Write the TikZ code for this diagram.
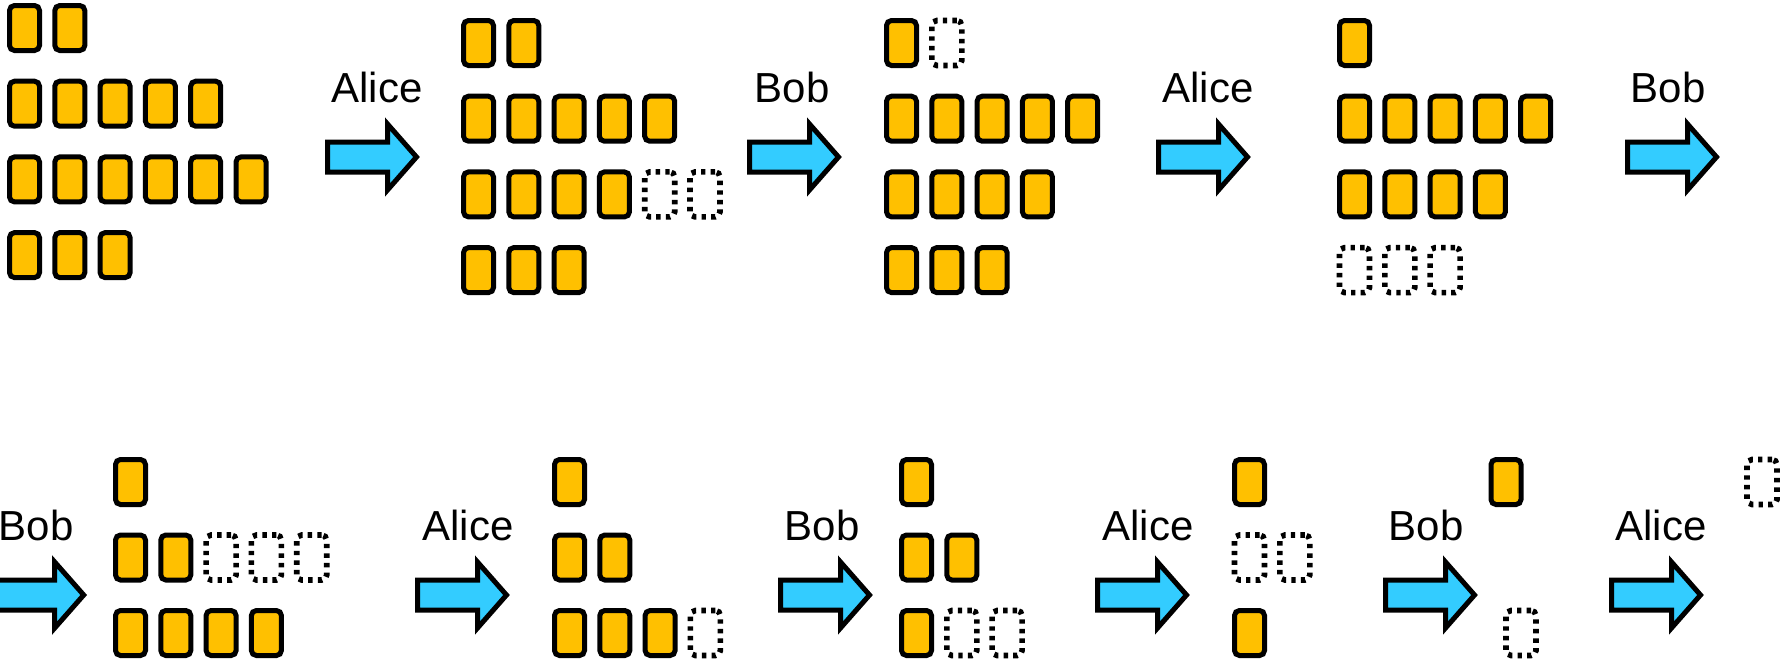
\documentclass[tikz,border=0pt]{standalone}
\usepackage{fontspec}
\setmainfont{Liberation Sans}
\definecolor{tilefill}{HTML}{FFC000}
\definecolor{arrowfill}{HTML}{33CCFF}
\tikzset{
  tile/.style={rectangle, draw=black, fill=tilefill, line width=2.5pt, rounded corners=2.5pt,
    minimum width=15pt, minimum height=22.5pt, inner sep=0pt, outer sep=0pt},
  gone/.style={rectangle, draw=black, line width=2.8pt, dash pattern=on 2.2pt off 2.6pt, rounded corners=2.5pt,
    minimum width=15pt, minimum height=22.5pt, inner sep=0pt, outer sep=0pt},
  bigarrow/.style={draw=black, fill=arrowfill, line width=2.5pt, line join=miter},
  lbl/.style={font=\fontsize{21pt}{24pt}\selectfont, anchor=base, inner sep=0pt},
  barrow/.pic={\path[bigarrow] (0,-15) -- (60,-15) -- (60,-33) -- (89,0) -- (60,33) -- (60,15) -- (0,15) -- cycle;}
}
\newcommand\tilerow[6]{\foreach \i in {#4,...,#5}{\node[#6] (#1-\i) at ({#2+45.3*\i},#3) {};}}
\begin{document}
\begin{tikzpicture}[x=0.5pt,y=-0.5pt]
\useasboundingbox (0,0) rectangle (1786,665);
% ---------- top row ----------
% state A
\tilerow{A0}{24.5}{28}{0}{1}{tile}
\tilerow{A1}{24.5}{103.7}{0}{4}{tile}
\tilerow{A2}{24.5}{179.4}{0}{5}{tile}
\tilerow{A3}{24.5}{255.1}{0}{2}{tile}
% arrow 1
\pic (ar1) at (327.5,157) {barrow};
\node[lbl] (l1) at (377,102) {Alice};
% state B
\tilerow{B0}{478.5}{43}{0}{1}{tile}
\tilerow{B1}{478.5}{118.7}{0}{4}{tile}
\tilerow{B2}{478.5}{194.4}{0}{3}{tile}
\tilerow{B2g}{478.5}{194.4}{4}{5}{gone}
\tilerow{B3}{478.5}{270.1}{0}{2}{tile}
% arrow 2
\pic (ar2) at (749.5,157) {barrow};
\node[lbl] (l2) at (792,102) {Bob};
% state C
\tilerow{C0}{901.5}{43}{0}{0}{tile}
\tilerow{C0g}{901.5}{43}{1}{1}{gone}
\tilerow{C1}{901.5}{118.7}{0}{4}{tile}
\tilerow{C2}{901.5}{194.4}{0}{3}{tile}
\tilerow{C3}{901.5}{270.1}{0}{2}{tile}
% arrow 3
\pic (ar3) at (1158.5,157) {barrow};
\node[lbl] (l3) at (1208,102) {Alice};
% state D
\tilerow{D0}{1354.5}{43}{0}{0}{tile}
\tilerow{D1}{1354.5}{118.7}{0}{4}{tile}
\tilerow{D2}{1354.5}{194.4}{0}{3}{tile}
\tilerow{D3g}{1354.5}{270.1}{0}{2}{gone}
% arrow 4
\pic (ar4) at (1627.5,157) {barrow};
\node[lbl] (l4) at (1668,102) {Bob};
% ---------- bottom row ----------
% arrow 5
\pic (ar5) at (-5.3,595) {barrow};
\node[lbl] (l5) at (36,540) {Bob};
% state E
\tilerow{E0}{130.5}{482}{0}{0}{tile}
\tilerow{E1}{130.5}{557.5}{0}{1}{tile}
\tilerow{E1g}{130.5}{557.5}{2}{4}{gone}
\tilerow{E2}{130.5}{633}{0}{3}{tile}
% arrow 6
\pic (ar6) at (417.5,595) {barrow};
\node[lbl] (l6) at (468,540) {Alice};
% state F
\tilerow{F0}{569.5}{482}{0}{0}{tile}
\tilerow{F1}{569.5}{557.5}{0}{1}{tile}
\tilerow{F2}{569.5}{633}{0}{2}{tile}
\tilerow{F2g}{569.5}{633}{3}{3}{gone}
% arrow 7
\pic (ar7) at (780.5,595) {barrow};
\node[lbl] (l7) at (822,540) {Bob};
% state G
\tilerow{G0}{916.5}{482}{0}{0}{tile}
\tilerow{G1}{916.5}{557.5}{0}{1}{tile}
\tilerow{G2}{916.5}{633}{0}{0}{tile}
\tilerow{G2g}{916.5}{633}{1}{2}{gone}
% arrow 8
\pic (ar8) at (1097.5,595) {barrow};
\node[lbl] (l8) at (1148,540) {Alice};
% state H
\tilerow{H0}{1249.5}{482}{0}{0}{tile}
\tilerow{H1g}{1249.5}{557.5}{0}{1}{gone}
\tilerow{H2}{1249.5}{633}{0}{0}{tile}
% arrow 9
\pic (ar9) at (1385.5,595) {barrow};
\node[lbl] (l9) at (1426,540) {Bob};
% state I
\node[tile] (I0) at (1506,482) {};
\node[gone] (I2) at (1521,633) {};
% arrow 10
\pic (ar10) at (1611.5,595) {barrow};
\node[lbl] (l10) at (1661,540) {Alice};
% state J
\node[gone] (J0) at (1762,482) {};
\end{tikzpicture}
\end{document}
